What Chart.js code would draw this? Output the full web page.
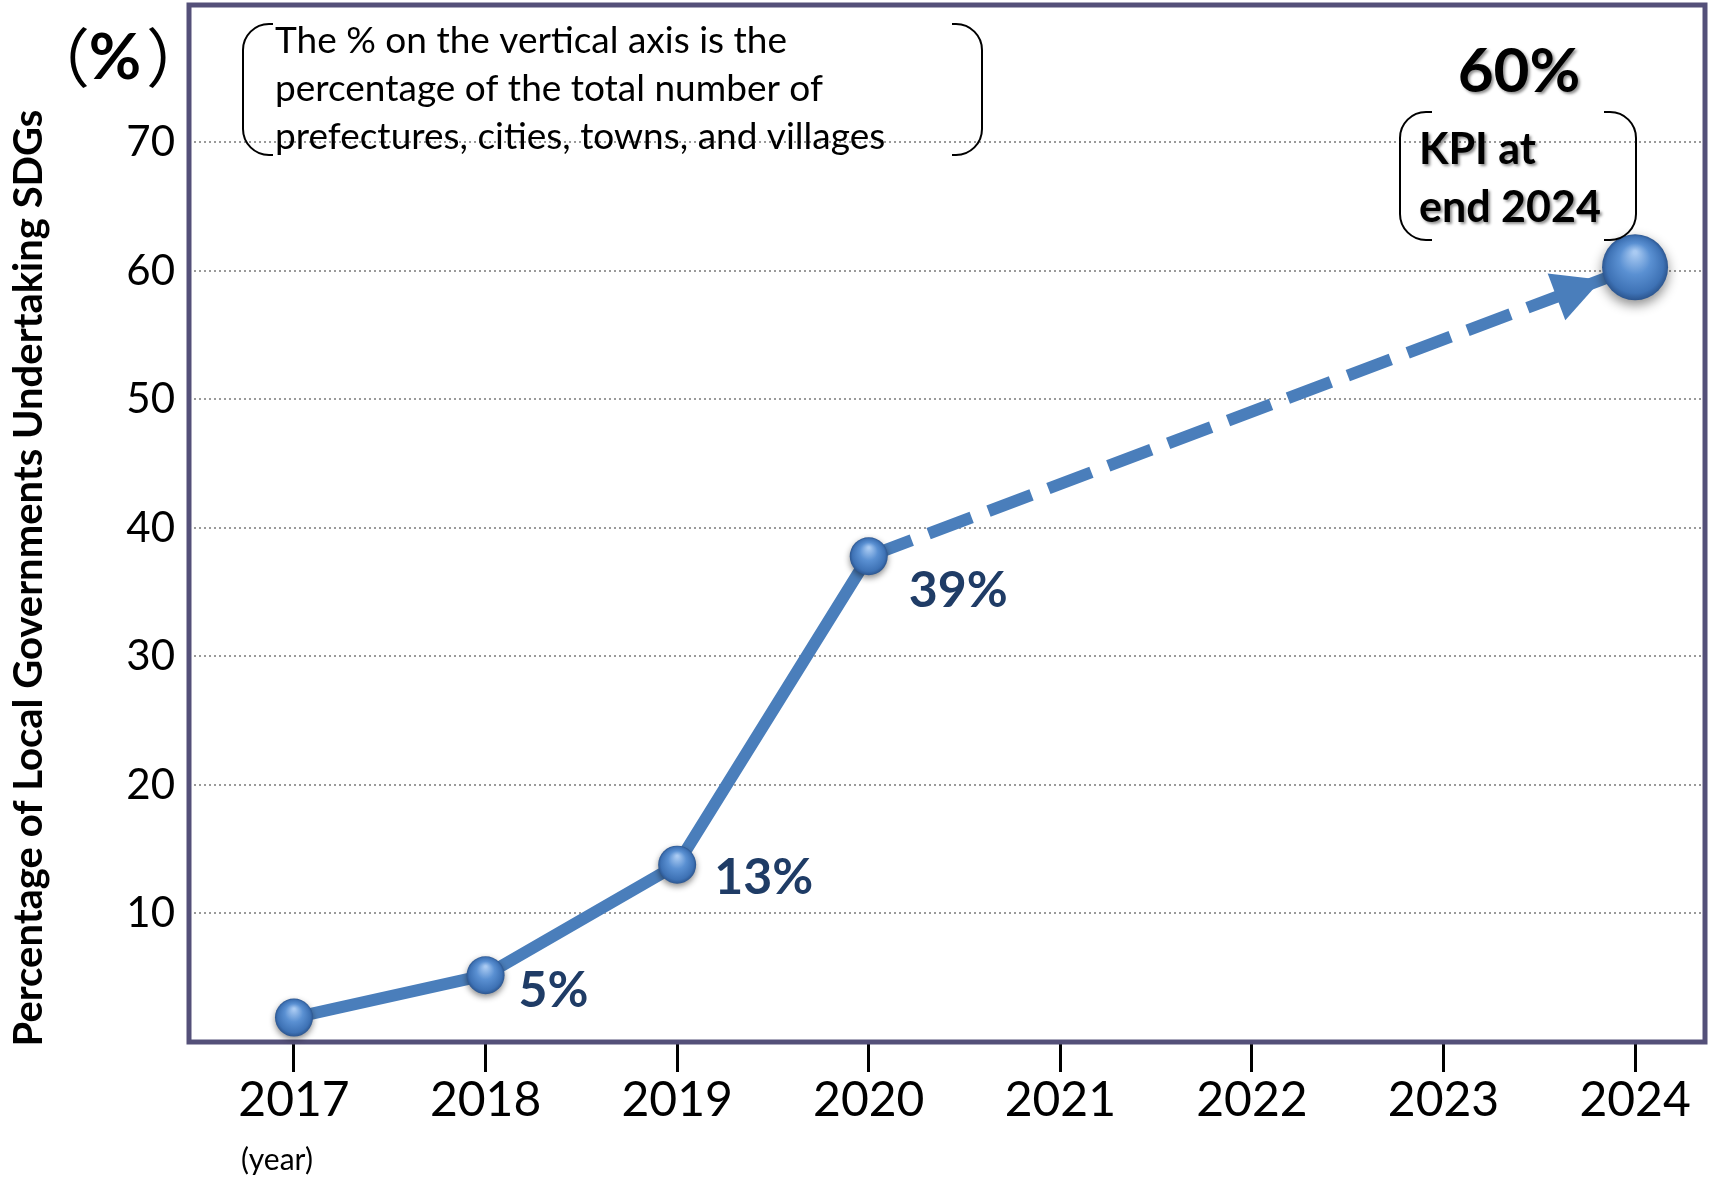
<!DOCTYPE html>
<html>
<head>
<meta charset="utf-8">
<script src="https://cdn.jsdelivr.net/npm/chart.js@4/dist/chart.umd.min.js"></script>
<style>
  body { margin: 0; background: #fff; }
  #wrap { width: 1710px; height: 1178px; }
</style>
</head>
<body>
<div id="wrap"><canvas id="kpiChart"></canvas></div>
<script>
// ===== data =====
const years = [2017, 2018, 2019, 2020, 2021, 2022, 2023, 2024];
const actualYears = [2017, 2018, 2019, 2020];
const actualValues = [1.9, 5.2, 13.8, 37.8];
const actualLabels = ['', '5%', '13%', '39%'];
const targetYears = [2020, 2024];
const targetValues = [37.8, 60.3];
const targetLabel = '60%';
const yTicks = [10, 20, 30, 40, 50, 60, 70];
const yTitle = 'Percentage of Local Governments Undertaking SDGs';
const noteLines = ['The % on the vertical axis is the', 'percentage of the total number of', 'prefectures, cities, towns, and villages'];
const kpiLines = ['KPI at', 'end 2024'];

const FONT = 'Lato, "Open Sans", sans-serif';
const BLUE = '#4A7EBB';
const LABEL_BLUE = '#1F3C66';
const FRAME = '#545079';

Chart.defaults.font.family = FONT;

//==========helpers===========
function drawSphere(ctx, x, y, r) {
    ctx.save();
    ctx.shadowColor = 'rgba(0,0,0,0.45)';
    ctx.shadowBlur = r * 0.35;
    ctx.shadowOffsetY = r * 0.15;
    let g = ctx.createRadialGradient(x, y - r * 0.45, r * 0.05, x, y, r);
    g.addColorStop(0, '#A9CAF2');
    g.addColorStop(0.45, '#5A90D2');
    g.addColorStop(0.85, '#3E72B5');
    g.addColorStop(1, '#2C5690');
    ctx.fillStyle = g;
    ctx.beginPath();
    ctx.arc(x, y, r, 0, Math.PI * 2);
    ctx.fill();
    ctx.restore();
}

function drawBrackets(ctx, l, t, r, b, rad, arm) {
    ctx.save();
    ctx.strokeStyle = '#000';
    ctx.lineWidth = 2;
    ctx.beginPath();
    ctx.moveTo(l + arm, t);
    ctx.arcTo(l, t, l, t + rad, rad);
    ctx.lineTo(l, b - rad);
    ctx.arcTo(l, b, l + arm, b, rad);
    ctx.lineTo(l + arm, b);
    ctx.stroke();
    ctx.beginPath();
    ctx.moveTo(r - arm, t);
    ctx.arcTo(r, t, r, t + rad, rad);
    ctx.lineTo(r, b - rad);
    ctx.arcTo(r, b, r - arm, b, rad);
    ctx.lineTo(r - arm, b);
    ctx.stroke();
    ctx.restore();
}

//==========plugin===========
const decor = {
    id: 'decor',
    beforeDraw(chart) {
        const ctx = chart.ctx;
        ctx.save();
        ctx.fillStyle = '#fff';
        ctx.fillRect(0, 0, chart.width, chart.height);
        ctx.restore();
    },
    beforeDatasetsDraw(chart) {
        const ctx = chart.ctx, a = chart.chartArea;
        ctx.save();
        ctx.strokeStyle = FRAME;
        ctx.lineWidth = 5;
        ctx.strokeRect(a.left, a.top, a.right - a.left, a.bottom - a.top);
        ctx.restore();
    },
    afterDatasetsDraw(chart) {
        const ctx = chart.ctx;
        const act = chart.getDatasetMeta(0).data;
        const tgt = chart.getDatasetMeta(1).data;

        // arrow head toward the KPI point
        const p0 = tgt[0], p1 = tgt[1];
        const ang = Math.atan2(p1.y - p0.y, p1.x - p0.x);
        const tipX = p1.x - Math.cos(ang) * 36, tipY = p1.y - Math.sin(ang) * 36;
        ctx.save();
        ctx.fillStyle = BLUE;
        ctx.beginPath();
        ctx.moveTo(tipX, tipY);
        ctx.lineTo(tipX - Math.cos(ang) * 48 - Math.sin(ang) * 25, tipY - Math.sin(ang) * 48 + Math.cos(ang) * 25);
        ctx.lineTo(tipX - Math.cos(ang) * 48 + Math.sin(ang) * 25, tipY - Math.sin(ang) * 48 - Math.cos(ang) * 25);
        ctx.closePath();
        ctx.fill();
        ctx.restore();

        act.forEach(p => drawSphere(ctx, p.x, p.y, 19));
        drawSphere(ctx, p1.x, p1.y, 33);

        // value labels
        const offs = [[0, 0], [33, 16], [37, 13], [40, 35]];
        ctx.save();
        ctx.fillStyle = LABEL_BLUE;
        ctx.font = 'bold 50px ' + FONT;
        ctx.textBaseline = 'middle';
        act.forEach((p, i) => {
            if (actualLabels[i]) ctx.fillText(actualLabels[i], p.x + offs[i][0], p.y + offs[i][1]);
        });
        ctx.restore();
    },
    afterDraw(chart) {
        const ctx = chart.ctx;
        ctx.save();
        ctx.fillStyle = '#000';

        // y axis title
        ctx.save();
        ctx.translate(29, 578);
        ctx.rotate(-Math.PI / 2);
        ctx.font = 'bold 40px ' + FONT;
        ctx.textAlign = 'center';
        ctx.textBaseline = 'middle';
        ctx.fillText(yTitle, 0, 0);
        ctx.restore();

        // unit mark
        ctx.textBaseline = 'middle';
        ctx.font = '64px "Noto Sans CJK JP"';
        ctx.textAlign = 'right';
        ctx.fillText('（', 90, 58);
        ctx.textAlign = 'left';
        ctx.fillText('）', 146, 58);
        ctx.font = 'bold 64px ' + FONT;
        ctx.textAlign = 'center';
        ctx.fillText('%', 115, 58);

        // year note
        ctx.font = '30px ' + FONT;
        ctx.fillText('(year)', 277, 1160);

        // note box
        ctx.textAlign = 'left';
        ctx.font = '37px ' + FONT;
        noteLines.forEach((t, i) => ctx.fillText(t, 275, 41 + i * 48));
        drawBrackets(ctx, 243, 24, 982, 155, 26, 30);

        // KPI box
        ctx.save();
        ctx.shadowColor = 'rgba(0,0,0,0.45)';
        ctx.shadowBlur = 3;
        ctx.shadowOffsetX = 2;
        ctx.shadowOffsetY = 2;
        ctx.font = 'bold 62px ' + FONT;
        ctx.textAlign = 'center';
        ctx.fillText(targetLabel, 1519, 72);
        ctx.font = 'bold 43px ' + FONT;
        ctx.textAlign = 'left';
        kpiLines.forEach((t, i) => ctx.fillText(t, 1419, 150 + i * 58));
        ctx.restore();
        drawBrackets(ctx, 1400, 112, 1636, 240, 26, 32);

        ctx.restore();
    }
};

//==========chart===========
const ctx = document.getElementById('kpiChart');
new Chart(ctx, {
    type: 'line',
    data: {
        datasets: [{
            label: 'actual',
            data: actualYears.map((x, i) => ({ x: x, y: actualValues[i] })),
            borderColor: BLUE,
            borderWidth: 12,
            pointRadius: 0,
            tension: 0,
            borderCapStyle: 'round'
        }, {
            label: 'target',
            data: targetYears.map((x, i) => ({ x: x, y: targetValues[i] })),
            borderColor: BLUE,
            borderWidth: 12,
            borderDash: [46, 18],
            pointRadius: 0,
            tension: 0
        }]
    },
    options: {
        responsive: true,
        maintainAspectRatio: false,
        animation: false,
        layout: { padding: { top: 5, right: 5, left: 0, bottom: 0 } },
        plugins: { legend: { display: false }, tooltip: { enabled: false } },
        scales: {
            x: {
                type: 'linear',
                min: 2016.452,
                max: 2024.365,
                afterBuildTicks: s => { s.ticks = years.map(v => ({ value: v })); },
                afterFit: s => { s.height = 136; s.paddingLeft = 0; s.paddingRight = 0; },
                ticks: {
                    color: '#000',
                    font: { size: 48 },
                    padding: 0,
                    maxRotation: 0,
                    callback: v => String(v)
                },
                grid: { drawOnChartArea: false, drawTicks: true, tickLength: 30, color: '#000', lineWidth: 3 },
                border: { display: false }
            },
            y: {
                min: 0,
                max: 80.7,
                afterBuildTicks: s => { s.ticks = yTicks.map(v => ({ value: v })); },
                afterFit: s => { s.width = 189; s.paddingTop = 0; s.paddingBottom = 0; },
                ticks: { color: '#000', font: { size: 42 }, padding: 14 },
                grid: { color: '#9a9a9a', lineWidth: 2, drawTicks: false },
                border: { display: false, dash: [2, 3] }
            }
        }
    },
    plugins: [decor]
});
</script>
</body>
</html>
